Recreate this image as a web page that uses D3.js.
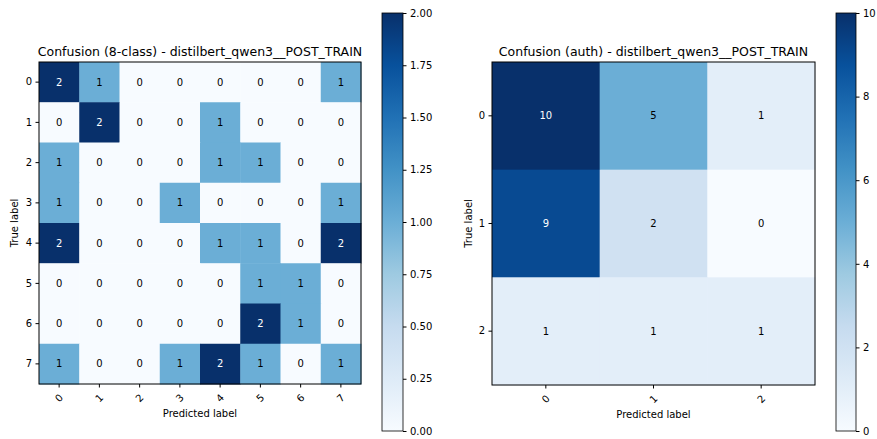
<!DOCTYPE html>
<html>
<head>
<meta charset="utf-8">
<script src="https://cdn.jsdelivr.net/npm/d3@7"></script>
<style>
  html, body { margin: 0; padding: 0; background: #fff; }
  svg { display: block; font-family: "DejaVu Sans", sans-serif; }
</style>
</head>
<body>
<svg id="chart" width="877" height="439"></svg>
<script>
// Confusion matrices (rows = true label, columns = predicted label)
const classes8 = ["0", "1", "2", "3", "4", "5", "6", "7"];
const matrix8 = [
  [2, 1, 0, 0, 0, 0, 0, 1],
  [0, 2, 0, 0, 1, 0, 0, 0],
  [1, 0, 0, 0, 1, 1, 0, 0],
  [1, 0, 0, 1, 0, 0, 0, 1],
  [2, 0, 0, 0, 1, 1, 0, 2],
  [0, 0, 0, 0, 0, 1, 1, 0],
  [0, 0, 0, 0, 0, 2, 1, 0],
  [1, 0, 0, 1, 2, 1, 0, 1]
];
const classesAuth = ["0", "1", "2"];
const matrixAuth = [
  [10, 5, 1],
  [9, 2, 0],
  [1, 1, 1]
];
const colorbarTicks8 = [0, 0.25, 0.5, 0.75, 1.0, 1.25, 1.5, 1.75, 2.0];
const colorbarTicksAuth = [0, 2, 4, 6, 8, 10];
const title8 = "Confusion (8-class) - distilbert_qwen3__POST_TRAIN";
const titleAuth = "Confusion (auth) - distilbert_qwen3__POST_TRAIN";

// Blues colormap as piecewise-linear segments
const bluesStops = ["#f7fbff", "#deebf7", "#c6dbef", "#9ecae1", "#6baed6", "#4292c6", "#2171b5", "#08519c", "#08306b"];
function bluesScale(vmax) {
  return d3.scaleLinear()
    .domain(bluesStops.map((_, i) => vmax * i / (bluesStops.length - 1)))
    .range(bluesStops)
    .interpolate(d3.interpolateRgb)
    .clamp(true);
}

const svg = d3.select("#chart");
const defs = svg.append("defs");

function drawPanel(opt) {
  const { matrix, classes, title, left, top, size, cbLeft, cbTop, cbBottom, cbWidth, ticks, tickFmt, id, ylabelX } = opt;
  const vmax = d3.max(matrix.flat());
  const color = bluesScale(vmax);
  const g = svg.append("g");

  const x = d3.scaleBand().domain(classes).range([left, left + size]);
  const y = d3.scaleBand().domain(classes).range([top, top + size]);

  const cells = [];
  matrix.forEach((row, i) => row.forEach((v, j) => cells.push({ i, j, v })));

  g.selectAll("rect.cell").data(cells).join("rect")
    .attr("class", "cell")
    .attr("x", d => x(classes[d.j]))
    .attr("y", d => y(classes[d.i]))
    .attr("width", x.bandwidth() + 0.5)
    .attr("height", y.bandwidth() + 0.5)
    .attr("fill", d => color(d.v));

  g.selectAll("text.val").data(cells).join("text")
    .attr("class", "val")
    .attr("x", d => x(classes[d.j]) + x.bandwidth() / 2)
    .attr("y", d => y(classes[d.i]) + y.bandwidth() / 2)
    .attr("dy", "0.35em")
    .attr("text-anchor", "middle")
    .attr("font-size", 10)
    .attr("fill", d => d.v > vmax / 2 ? "#ffffff" : "#000000")
    .text(d => d.v);

  // frame
  g.append("rect")
    .attr("x", left).attr("y", top)
    .attr("width", size).attr("height", size)
    .attr("fill", "none").attr("stroke", "#000").attr("stroke-width", 1);

  // y axis
  const yAxis = g.append("g").attr("transform", `translate(${left},0)`)
    .call(d3.axisLeft(y).tickSize(3.5).tickPadding(3.5));
  yAxis.select(".domain").remove();
  yAxis.selectAll("text").attr("font-size", 10).attr("font-family", "DejaVu Sans").attr("fill", "#000");
  yAxis.selectAll("line").attr("stroke", "#000");

  // x axis with labels rotated 45° counter-clockwise
  const xAxis = g.append("g").attr("transform", `translate(0,${top + size})`)
    .call(d3.axisBottom(x).tickSize(3.5).tickPadding(3.5));
  xAxis.select(".domain").remove();
  xAxis.selectAll("line").attr("stroke", "#000");
  xAxis.selectAll("text")
    .attr("font-size", 10).attr("font-family", "DejaVu Sans").attr("fill", "#000")
    .attr("y", 0).attr("dy", null)
    .attr("text-anchor", "middle")
    .attr("dominant-baseline", "central")
    .attr("transform", "translate(0,14) rotate(-45)");

  // title
  g.append("text")
    .attr("x", left + size / 2).attr("y", top - 6)
    .attr("text-anchor", "middle")
    .attr("font-size", 12.5)
    .attr("fill", "#000")
    .text(title);

  // axis labels
  g.append("text")
    .attr("x", left + size / 2).attr("y", top + size + 33)
    .attr("text-anchor", "middle").attr("font-size", 10).attr("fill", "#000")
    .text("Predicted label");
  g.append("text")
    .attr("transform", `translate(${ylabelX},${top + size / 2}) rotate(-90)`)
    .attr("text-anchor", "middle").attr("font-size", 10).attr("fill", "#000")
    .text("True label");

  // colorbar
  const grad = defs.append("linearGradient").attr("id", id)
    .attr("x1", 0).attr("y1", 1).attr("x2", 0).attr("y2", 0);
  bluesStops.forEach((c, i) => grad.append("stop")
    .attr("offset", i / (bluesStops.length - 1)).attr("stop-color", c));
  g.append("rect")
    .attr("x", cbLeft).attr("y", cbTop)
    .attr("width", cbWidth).attr("height", cbBottom - cbTop)
    .attr("fill", `url(#${id})`)
    .attr("stroke", "#000").attr("stroke-width", 0.8);
  const cbScale = d3.scaleLinear().domain([0, vmax]).range([cbBottom, cbTop]);
  const cbAxis = g.append("g").attr("transform", `translate(${cbLeft + cbWidth},0)`)
    .call(d3.axisRight(cbScale).tickValues(ticks).tickFormat(tickFmt).tickSize(3.5).tickPadding(3.5));
  cbAxis.select(".domain").remove();
  cbAxis.selectAll("line").attr("stroke", "#000");
  cbAxis.selectAll("text").attr("font-size", 10).attr("font-family", "DejaVu Sans").attr("fill", "#000");
}

drawPanel({
  matrix: matrix8, classes: classes8, title: title8, id: "cb8",
  left: 39, top: 62, size: 322,
  cbLeft: 382, cbTop: 13, cbBottom: 431, cbWidth: 21,
  ticks: colorbarTicks8, tickFmt: d3.format(".2f"), ylabelX: 18
});

drawPanel({
  matrix: matrixAuth, classes: classesAuth, title: titleAuth, id: "cbAuth",
  left: 492, top: 62, size: 323,
  cbLeft: 836, cbTop: 13, cbBottom: 431, cbWidth: 20,
  ticks: colorbarTicksAuth, tickFmt: d3.format("d"), ylabelX: 472
});
</script>
</body>
</html>
